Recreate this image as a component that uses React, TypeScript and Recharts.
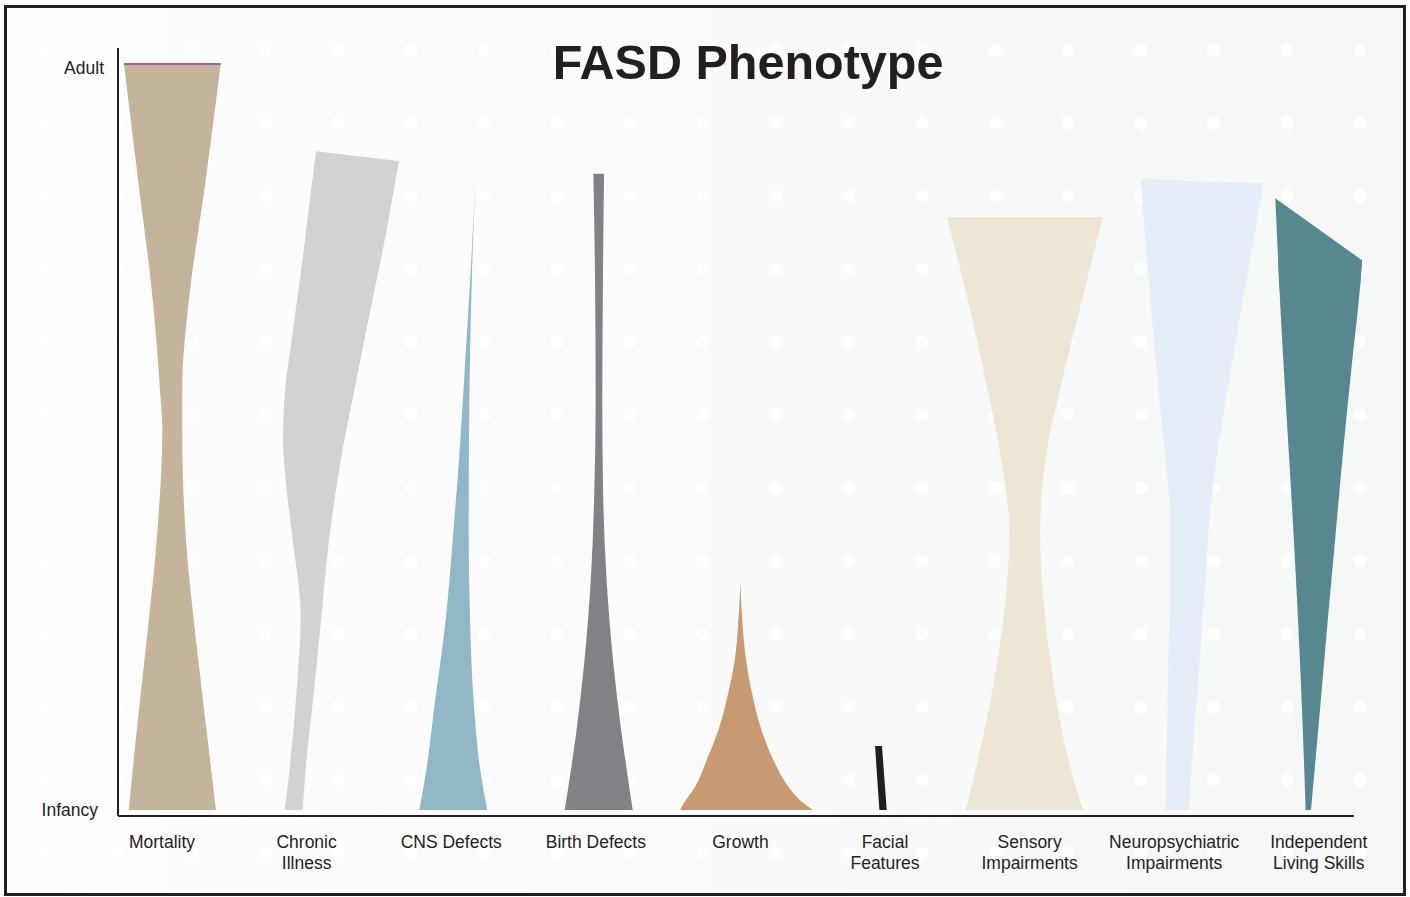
import React from "react";
import { Area, ComposedChart, ReferenceLine, XAxis, YAxis } from "recharts";

// category labels, one per shape, in axis order 1..9
const categories = [
  "Mortality",
  "Chronic\nIllness",
  "CNS Defects",
  "Birth Defects",
  "Growth",
  "Facial\nFeatures",
  "Sensory\nImpairments",
  "Neuropsychiatric\nImpairments",
  "Independent\nLiving Skills",
];
const categoryTicks = [1, 2, 3, 4, 5, 6, 7, 8, 9];

// age axis: 0 = infancy, 100 = adult
const ageTicks = [0, 100];
const ageLabels: Record<number, string> = { 0: "Infancy", 100: "Adult" };

// each shape: age levels with left / right edge on the category axis
const mortalityAge = [100, 83.1, 69.7, 56.3, 50.9, 36.2, 22.8, 9.4, 0];
const mortalityLeft = [0.737, 0.843, 0.929, 0.986, 1.002, 0.963, 0.894, 0.818, 0.77];
const mortalityRight = [1.406, 1.293, 1.194, 1.14, 1.14, 1.166, 1.235, 1.316, 1.373];

const chronicCapAge = [88.3, 87.0, 76.4];
const chronicCapLeft = [2.065, 2.057, 1.989];
const chronicCapRight = [2.065, 2.637, 2.54];
const chronicAge = [87.0, 76.4, 63.0, 56.3, 49.6, 42.9, 36.2, 26.1, 16.1, 6.0, 0];
const chronicLeft = [2.057, 1.989, 1.897, 1.851, 1.837, 1.862, 1.904, 1.959, 1.931, 1.885, 1.849];
const chronicRight = [2.637, 2.54, 2.399, 2.331, 2.261, 2.203, 2.155, 2.103, 2.052, 1.996, 1.973];

const cnsAge = [84.5, 72.3, 60.6, 48.9, 37.3, 25.5, 13.8, 5.1, 0];
const cnsLeft = [3.167, 3.135, 3.098, 3.061, 3.015, 2.962, 2.883, 2.826, 2.779];
const cnsRight = [3.167, 3.144, 3.13, 3.123, 3.121, 3.13, 3.158, 3.203, 3.25];

const birthAge = [85.3, 72.4, 54.7, 43.0, 31.4, 19.7, 10.9, 5.1, 0];
const birthLeft = [3.983, 3.994, 3.999, 3.99, 3.967, 3.92, 3.868, 3.826, 3.785];
const birthRight = [4.057, 4.05, 4.045, 4.05, 4.073, 4.121, 4.174, 4.216, 4.255];

const growthAge = [30.4, 24.5, 20.1, 15.7, 11.1, 6.7, 3.1, 1.3, 0];
const growthLeft = [5.0, 4.983, 4.961, 4.916, 4.854, 4.767, 4.686, 4.622, 4.582];
const growthRight = [5.0, 5.016, 5.039, 5.08, 5.14, 5.228, 5.333, 5.413, 5.5];

const facialAge = [8.6, 0];
const facialLeft = [5.931, 5.961];
const facialRight = [5.979, 6.012];

const sensoryAge = [79.5, 69.0, 57.9, 46.6, 37.3, 29.9, 18.8, 7.6, 0];
const sensoryLeft = [6.427, 6.565, 6.692, 6.807, 6.86, 6.842, 6.768, 6.652, 6.56];
const sensoryRight = [7.506, 7.371, 7.229, 7.107, 7.072, 7.088, 7.153, 7.257, 7.367];

const neuroCapAge = [84.6, 84.0, 70.1];
const neuroCapLeft = [7.77, 7.772, 7.828];
const neuroCapRight = [7.77, 8.616, 8.49];
const neuroAge = [84.0, 70.1, 58.8, 47.5, 38.9, 30.4, 19.0, 7.8, 0];
const neuroLeft = [7.772, 7.828, 7.879, 7.936, 7.971, 7.971, 7.959, 7.948, 7.938];
const neuroRight = [8.616, 8.49, 8.391, 8.294, 8.244, 8.213, 8.172, 8.128, 8.1];

const livingCapAge = [82.0, 73.7, 70.1];
const livingCapLeft = [8.699, 8.719, 8.727];
const livingCapRight = [8.699, 9.299, 9.285];
const livingAge = [73.7, 70.1, 58.8, 47.5, 36.1, 24.8, 13.4, 5.0, 0];
const livingLeft = [8.719, 8.727, 8.759, 8.794, 8.828, 8.858, 8.884, 8.9, 8.909];
const livingRight = [9.299, 9.285, 9.223, 9.165, 9.112, 9.059, 9.008, 8.969, 8.946];

const shapes: Record<string, [number[], number[], number[]]> = {
  mortality: [mortalityAge, mortalityLeft, mortalityRight],
  chronicCap: [chronicCapAge, chronicCapLeft, chronicCapRight],
  chronic: [chronicAge, chronicLeft, chronicRight],
  cns: [cnsAge, cnsLeft, cnsRight],
  birth: [birthAge, birthLeft, birthRight],
  growth: [growthAge, growthLeft, growthRight],
  facial: [facialAge, facialLeft, facialRight],
  sensory: [sensoryAge, sensoryLeft, sensoryRight],
  neuroCap: [neuroCapAge, neuroCapLeft, neuroCapRight],
  neuro: [neuroAge, neuroLeft, neuroRight],
  livingCap: [livingCapAge, livingCapLeft, livingCapRight],
  living: [livingAge, livingLeft, livingRight],
};

function buildRows() {
  const ages = Array.from(new Set(Object.values(shapes).flatMap((s) => s[0]))).sort((a, b) => a - b);
  return ages.map((age) => {
    const row: Record<string, any> = { age };
    for (const key of Object.keys(shapes)) {
      const [a, l, r] = shapes[key];
      const i = a.indexOf(age);
      row[key] = i >= 0 ? [l[i], r[i]] : [null, null];
    }
    return row;
  });
}
const rows = buildRows();

const series = [
  { key: "mortality", color: "#c4b49b", type: "monotone" },
  { key: "chronicCap", color: "#d1d2d4", type: "linear" },
  { key: "chronic", color: "#d1d2d4", type: "monotone" },
  { key: "cns", color: "#92b7c6", type: "monotone" },
  { key: "birth", color: "#808285", type: "monotone" },
  { key: "growth", color: "#c79a74", type: "monotone" },
  { key: "facial", color: "#231f20", type: "linear" },
  { key: "sensory", color: "#ece6d4", type: "monotone" },
  { key: "neuroCap", color: "#e5eef6", type: "linear" },
  { key: "neuro", color: "#e5eef6", type: "monotone" },
  { key: "livingCap", color: "#57878f", type: "linear" },
  { key: "living", color: "#57878f", type: "monotone" },
];

const FONT = "'Liberation Sans', Arial, Helvetica, sans-serif";
const INK = "#231f20";

function CategoryTick(props: any) {
  const { x, y, payload } = props;
  const lines = categories[payload.value - 1].split("\n");
  return (
    <text x={x} y={y} textAnchor="middle" fontFamily={FONT} fontSize={17.5} fill={INK}>
      {lines.map((line: string, i: number) => (
        <tspan key={i} x={x} dy={i === 0 ? 24 : 21}>
          {line}
        </tspan>
      ))}
    </text>
  );
}

function AgeTick(props: any) {
  const { x, y, payload } = props;
  const adult = payload.value === 100;
  return (
    <text x={x - (adult ? 6 : 12)} y={y + (adult ? 10 : 6)} textAnchor="end" fontFamily={FONT} fontSize={17.5} fill={INK}>
      {ageLabels[payload.value]}
    </text>
  );
}

export default function App() {
  return (
    <div style={{ position: "absolute", left: 0, top: 0, width: 1410, height: 897, background: "#fff" }}>
      <div
        style={{
          position: "absolute",
          left: 4,
          top: 5,
          width: 1402,
          height: 891,
          boxSizing: "border-box",
          border: `3px solid ${INK}`,
          backgroundImage:
            "radial-gradient(circle at center, rgba(255,255,255,0.95) 6px, rgba(255,255,255,0) 7px), linear-gradient(to right, #fdfdfd 0%, #fbfbfb 45%, #f5f6f6 100%)",
          backgroundSize: "73px 73px, 100% 100%",
          backgroundPosition: "2.5px 5.5px, 0 0",
        }}
      />
      <div
        style={{
          position: "absolute",
          left: 448,
          top: 38,
          width: 600,
          textAlign: "center",
          fontFamily: FONT,
          fontWeight: 700,
          fontSize: 48.5,
          lineHeight: "48px",
          color: INK,
        }}
      >
        FASD Phenotype
      </div>
      <div style={{ position: "absolute", left: 0, top: 0 }}>
        <ComposedChart
          layout="vertical"
          width={1410}
          height={897}
          data={rows}
          margin={{ top: 48, right: 40, bottom: 21, left: 8 }}
        >
          <XAxis
            type="number"
            domain={[0.6957, 9.354]}
            allowDataOverflow
            ticks={categoryTicks}
            interval={0}
            axisLine={false}
            tickLine={false}
            height={60}
            tick={(p: any) => <CategoryTick {...p} />}
          />
          <YAxis
            type="number"
            dataKey="age"
            domain={[-0.8, 102.15]}
            allowDataOverflow
            reversed
            ticks={ageTicks}
            interval={0}
            width={110}
            axisLine={{ stroke: INK, strokeWidth: 2 }}
            tickLine={false}
            tick={(p: any) => <AgeTick {...p} />}
          />
          {series.map((s) => (
            <Area
              key={s.key}
              dataKey={s.key}
              type={s.type as any}
              fill={s.color}
              fillOpacity={1}
              stroke="none"
              connectNulls
              dot={false}
              activeDot={false}
              isAnimationActive={false}
            />
          ))}
          <ReferenceLine
            segment={[
              { x: mortalityLeft[0], y: mortalityAge[0] },
              { x: mortalityRight[0], y: mortalityAge[0] },
            ]}
            stroke="#9b5fb5"
            strokeWidth={2}
            ifOverflow="visible"
          />
          <ReferenceLine
            segment={[
              { x: 0.6957, y: -0.8 },
              { x: 9.2434, y: -0.8 },
            ]}
            stroke={INK}
            strokeWidth={2}
            ifOverflow="visible"
          />
        </ComposedChart>
      </div>
    </div>
  );
}
